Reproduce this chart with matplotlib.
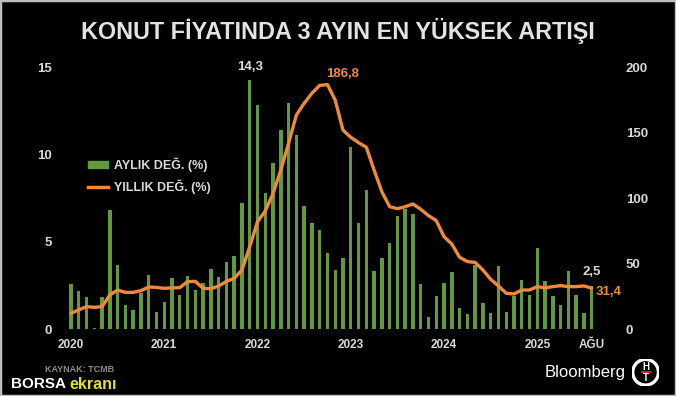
import numpy as np
import matplotlib
matplotlib.use("Agg")
import matplotlib.pyplot as plt
from matplotlib.patches import Circle, Rectangle
from matplotlib.lines import Line2D

# monthly (left axis, %) and yearly (right axis, %) house price change, Jan 2020 - Aug 2025
monthly = [2.6, 2.19, 1.85, 0.1, 1.87, 6.85, 3.68, 1.38, 1.11, 2.1, 3.1, 1.0,
           1.56, 2.95, 1.98, 3.08, 2.25, 2.63, 3.44, 2.97, 3.87, 4.21, 7.23, 14.3,
           12.82, 7.82, 9.54, 11.41, 12.98, 11.13, 7.08, 6.07, 5.69, 4.39, 3.40, 4.10,
           10.46, 6.09, 8.0, 3.36, 4.06, 4.96, 6.47, 6.87, 6.60, 2.58, 0.71, 1.91,
           2.65, 3.28, 1.2, 0.88, 3.68, 1.52, 0.91, 3.63, 0.99, 1.91, 2.8, 1.95,
           4.65, 2.78, 1.92, 1.42, 3.34, 1.95, 0.95, 2.5]
yearly = [12.2, 14.8, 17.3, 16.8, 17.3, 26.2, 30, 28.2, 28.2, 29.5, 32.3, 32,
          31.3, 31.6, 31.8, 36.4, 36.6, 31.3, 31, 33, 36.6, 38.9, 45.3, 63.1,
          82.2, 90.3, 103.8, 121.6, 142, 163.6, 172.5, 180.2, 186.2, 186.8, 175, 152,
          146.6, 142.5, 139, 121.6, 105, 93.6, 92.1, 93.6, 95.7, 91.6, 86.8, 83,
          70.7, 65.1, 55, 51.7, 51.1, 45.3, 38.2, 33.1, 27.5, 27, 30, 30,
          32.6, 31.6, 32.6, 33.3, 32.6, 32.6, 33.1, 31.4]
tick_months = [0, 12, 24, 36, 48, 60, 67]
tick_labels = ["2020", "2021", "2022", "2023", "2024", "2025", "AĞU"]
left_ticks = [0, 5, 10, 15]
right_ticks = [0, 50, 100, 150, 200]

bold = ["Liberation Sans", "DejaVu Sans"]
green = "#619a3e"
orange = "#f08a3a"
grey = "#d9d9d9"

x = np.arange(len(monthly))

fig = plt.figure(figsize=(6.76, 3.96), dpi=100, facecolor="black")
ax = fig.add_axes([0.0935, 0.1684, 0.7933, 0.6616])
ax.set_facecolor("black")
ax.bar(x, monthly, width=0.44, color=green, zorder=2)
ax.set_xlim(-1, 68)
ax.set_ylim(0, 15)
ax.set_yticks(left_ticks)
ax.set_yticklabels([str(t) for t in left_ticks], family=bold, weight="bold", fontsize=9.5, color=grey)
ax.set_xticks(tick_months)
ax.set_xticklabels(tick_labels, family=bold, weight="bold", fontsize=8.5, color=grey)
ax.tick_params(axis="y", length=0, pad=8)
ax.tick_params(axis="x", length=0, pad=7)

ax2 = ax.twinx()
ax2.plot(x, yearly, color=orange, lw=2.4, solid_capstyle="round", solid_joinstyle="round", zorder=3)
ax2.set_ylim(0, 200)
ax2.set_yticks(right_ticks)
ax2.set_yticklabels([str(t) for t in right_ticks], family=bold, weight="bold", fontsize=9.5, color=grey)
ax2.tick_params(axis="y", length=0, pad=19)

for a in (ax, ax2):
    for s in a.spines.values():
        s.set_visible(False)

# value labels
imax = int(np.argmax(monthly))
ax.annotate("14,3", (x[imax], monthly[imax]), xytext=(0, 9), textcoords="offset points",
            ha="center", va="center", family=bold, weight="bold", fontsize=9.5, color=grey)
ax.annotate("2,5", (x[-1], monthly[-1]), xytext=(0, 9.5), textcoords="offset points",
            ha="center", va="center", family=bold, weight="bold", fontsize=9.5, color=grey)
ipk = int(np.argmax(yearly))
ax2.annotate("186,8", (x[ipk], yearly[ipk]), xytext=(-1, 7.5), textcoords="offset points",
             ha="left", va="center", family=bold, weight="bold", fontsize=9.5, color=orange)
ax2.annotate("31,4", (x[-1], yearly[-1]), xytext=(3, -3), textcoords="offset points",
             ha="left", va="center", family=bold, weight="bold", fontsize=9.5, color=orange)

# legend
handles = [Rectangle((0, 0), 1, 1, color=green), Line2D([], [], color=orange, lw=2.5)]
fig.legend(handles, ["AYLIK DEĞ. (%)", "YILLIK DEĞ. (%)"], loc="upper left",
           bbox_to_anchor=(0.121, 0.618), frameon=False, borderpad=0, handlelength=1.6,
           handleheight=0.5, handletextpad=0.5, labelspacing=0.6,
           prop={"family": bold, "weight": "bold", "size": 9}, labelcolor=grey)

# title
fig.text(0.5, 0.922, "KONUT FİYATINDA 3 AYIN EN YÜKSEK ARTIŞI", ha="center", va="center",
         family=bold, weight="bold", fontsize=16.8, color="#e3e3e3")

# footer
fig.text(0.066, 0.068, "KAYNAK: TCMB", ha="left", va="center", family=bold, weight="bold",
         fontsize=6.5, color="#8c8c8c")
fig.text(0.016, 0.03, "BORSA", ha="left", va="center", family=bold, weight="bold",
         fontsize=11, color="white")
fig.text(0.102, 0.03, "ekranı", ha="left", va="center", family=bold, weight="bold",
         fontsize=11.5, color="#e6e022")
fig.text(0.925, 0.06, "Bloomberg", ha="right", va="center", family=bold,
         fontsize=12, color="white")

lax = fig.add_axes([0.935, 0.02, 0.04, 0.08])
lax.set_xlim(-1, 1)
lax.set_ylim(-1, 1)
lax.set_aspect("equal")
lax.axis("off")
lax.add_patch(Circle((0, 0), 0.95, facecolor="black", edgecolor="white", lw=2.4))
lax.text(0, 0.4, "H", ha="center", va="center", family=bold, weight="bold", fontsize=7, color="white")
lax.text(0, -0.42, "T", ha="center", va="center", family=bold, weight="bold", fontsize=7, color="white")
lax.plot([-0.3, 0.3], [0, 0], color="#d0202a", lw=1.5)

# thin grey frame
fig.add_artist(Rectangle((0, 0), 1, 1, transform=fig.transFigure, fill=False,
                         edgecolor="#bdbdbd", lw=2.5))

fig.savefig("out.png", dpi=100, facecolor="black")
